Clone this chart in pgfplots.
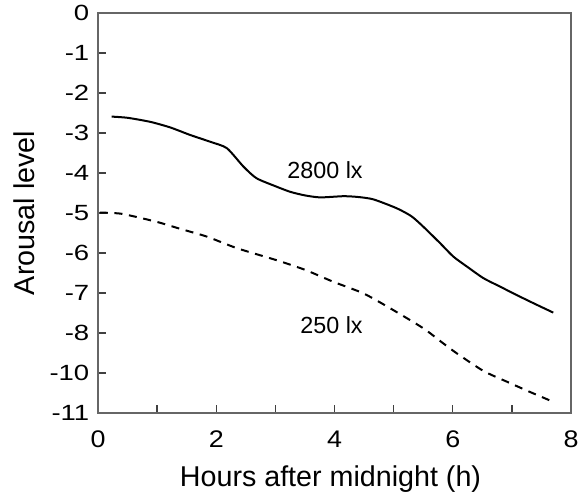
\documentclass[border=0pt]{standalone}
\usepackage{pgfplots}
\pgfplotsset{compat=1.18}
\usepackage{fontspec}
\setmainfont{Liberation Sans}
% wide tick-label faces
\newfontfamily\ytickfont{Liberation Sans}[FakeStretch=1.25]
\newfontfamily\xtickfont{Liberation Sans}[FakeStretch=1.12]

\definecolor{axisgray}{gray}{0.4}

\begin{document}
\begin{tikzpicture}
\begin{axis}[
  scale only axis,
  width=354.75pt, height=300pt,
  xmin=0, xmax=8, ymin=-10, ymax=0,
  xtick={0,1,...,8},
  xticklabels={0,,2,,4,,6,,8},
  ytick={-10,-9,...,0},
  yticklabels={-11,-10,-8,-7,-6,-5,-4,-3,-2,-1,0},
  tick align=inside,
  xtick pos=bottom, ytick pos=left,
  major tick length=6pt,
  axis line style={axisgray, line width=1.1pt},
  tick style={black!75, line width=1.1pt},
  /pgf/number format/assume math mode=true,
  xticklabel style={font=\xtickfont\fontsize{18}{21}\selectfont, anchor=base, yshift=-26pt},
  yticklabel style={font=\ytickfont\fontsize{16.5}{19}\selectfont, xshift=-3pt},
  label style={font=\fontsize{21.5}{25}\selectfont},
  xlabel={Hours after midnight (h)},
  xlabel style={at={(axis description cs:0.5,0)}, anchor=base, yshift=-54.75pt, xshift=-3pt},
  ylabel={Arousal level},
  % the label is turned by 90 degrees, so its own y direction points left
  ylabel style={at={(axis description cs:0,0.5)}, anchor=center, yshift=55.5pt},
  clip=false,
]
% 2800 lx condition
\addplot[black, line width=1.5pt, smooth, tension=0.4] coordinates {
  (0.23,-2.59) (0.50,-2.62) (0.88,-2.72) (1.22,-2.86) (1.56,-3.05)
  (1.90,-3.22) (2.18,-3.38) (2.46,-3.84) (2.68,-4.13) (3.00,-4.33)
  (3.25,-4.47) (3.50,-4.56) (3.76,-4.61) (4.15,-4.58) (4.40,-4.60)
  (4.66,-4.66) (5.05,-4.88) (5.30,-5.08) (5.50,-5.34) (5.79,-5.76)
  (6.01,-6.09) (6.25,-6.35) (6.52,-6.63) (6.80,-6.84) (7.08,-7.05)
  (7.40,-7.28) (7.70,-7.49)
};
% 250 lx condition
\addplot[black, line width=1.5pt, dash pattern=on 6pt off 5pt, smooth, tension=0.4] coordinates {
  (0.03,-4.99) (0.40,-5.02) (0.99,-5.22) (1.40,-5.40) (1.84,-5.59)
  (2.35,-5.88) (3.02,-6.18) (3.50,-6.42) (3.98,-6.72) (4.49,-7.01)
  (4.94,-7.38) (5.50,-7.88) (5.84,-8.26) (6.07,-8.51) (6.52,-8.95)
  (6.92,-9.22) (7.30,-9.47) (7.65,-9.69)
};
\node[font=\fontsize{17.5}{20}\selectfont] at (axis cs:3.84,-3.93) {2800 lx};
\node[font=\fontsize{17.5}{20}\selectfont] at (axis cs:3.95,-7.80) {250 lx};
\end{axis}
\pgfresetboundingbox
\path (current axis.south west) ++(-73.5pt,-62.25pt) rectangle ++(438.75pt,372pt);
\end{tikzpicture}
\end{document}
